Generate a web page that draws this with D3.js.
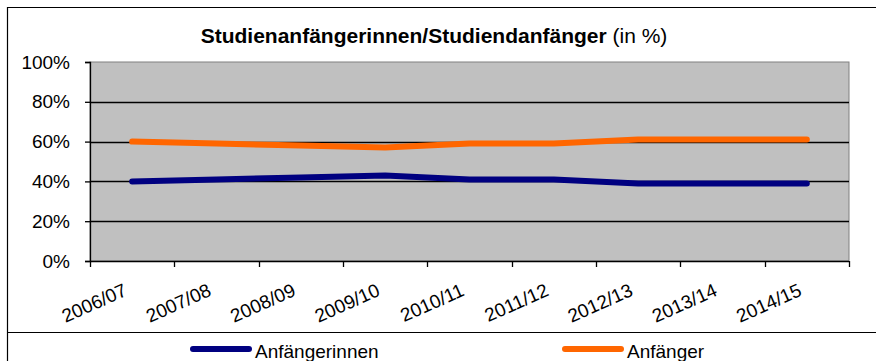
<!DOCTYPE html>
<html>
<head>
<meta charset="utf-8">
<script src="https://cdn.jsdelivr.net/npm/d3@7/dist/d3.min.js"></script>
<style>
  html, body { margin: 0; padding: 0; background: #fff; }
  svg { display: block; font-family: "Liberation Sans", Arial, sans-serif; }
</style>
</head>
<body>
<svg id="chart" width="876" height="361"></svg>
<script>
// Semesters (winter term / summer term)
const years = ["2006/07", "2007/08", "2008/09", "2009/10", "2010/11", "2011/12", "2012/13", "2013/14", "2014/15"];
// Share of female first-year students (%)
const anfaengerinnen = [40, 41, 42, 43, 41, 41, 39, 39, 39];
// Share of male first-year students (%)
const anfaenger = [60, 59, 58, 57, 59, 59, 61, 61, 61];
const yTicks = [0, 20, 40, 60, 80, 100];

const series = [
  { name: "Anfängerinnen", values: anfaengerinnen, color: "#000080" },
  { name: "Anfänger", values: anfaenger, color: "#ff6600" }
];

const svg = d3.select("#chart");
const plot = { left: 90, top: 62, right: 849, bottom: 261 };

// Outer chart frame and legend separator
svg.append("path")
  .attr("d", "M7.5,400 V7.5 H900")
  .attr("fill", "none").attr("stroke", "#000").attr("stroke-width", 1.2);
svg.append("line")
  .attr("x1", 7.5).attr("x2", 900).attr("y1", 332.5).attr("y2", 332.5)
  .attr("stroke", "#000").attr("stroke-width", 1.2);

// Title
const title = svg.append("text")
  .attr("x", 434).attr("y", 43)
  .attr("text-anchor", "middle")
  .attr("font-size", 21);
title.append("tspan").attr("font-weight", "bold").text("Studienanfängerinnen/Studiendanfänger");
title.append("tspan").text(" (in %)");

const x = d3.scaleBand().domain(years).range([plot.left, plot.right]);
const y = d3.scaleLinear().domain([0, 100]).range([plot.bottom, plot.top]);

// Plot background
svg.append("rect")
  .attr("x", plot.left).attr("y", plot.top)
  .attr("width", plot.right - plot.left).attr("height", plot.bottom - plot.top)
  .attr("fill", "#c0c0c0")
  .attr("stroke", "#808080").attr("stroke-width", 1);

// Horizontal gridlines
svg.append("g")
  .selectAll("line")
  .data(yTicks.filter(t => t > 0 && t < 100))
  .join("line")
  .attr("x1", plot.left).attr("x2", plot.right)
  .attr("y1", d => Math.round(y(d)) + 0.5).attr("y2", d => Math.round(y(d)) + 0.5)
  .attr("stroke", "#000").attr("stroke-width", 1.3);

// Y axis
const yAxis = svg.append("g")
  .attr("transform", `translate(${plot.left},0)`)
  .call(d3.axisLeft(y).tickValues(yTicks).tickFormat(d => d + "%").tickSize(5).tickPadding(15));
yAxis.select(".domain").attr("stroke", "#000").attr("stroke-width", 1.3);
yAxis.selectAll(".tick line").attr("stroke", "#000").attr("stroke-width", 1.3);
yAxis.selectAll("text").attr("font-size", 19).attr("fill", "#000")
  .attr("font-family", "'Liberation Sans', Arial, sans-serif");

// X axis with ticks on category boundaries
const boundaries = years.map(d => x(d)).concat([plot.right]);
const xg = svg.append("g");
xg.append("line")
  .attr("x1", plot.left).attr("x2", plot.right)
  .attr("y1", plot.bottom + 0.5).attr("y2", plot.bottom + 0.5)
  .attr("stroke", "#000").attr("stroke-width", 1.5);
xg.selectAll("line.tick")
  .data(boundaries)
  .join("line").attr("class", "tick")
  .attr("x1", d => Math.round(d) + 0.5).attr("x2", d => Math.round(d) + 0.5)
  .attr("y1", plot.bottom).attr("y2", plot.bottom + 6)
  .attr("stroke", "#000").attr("stroke-width", 1.3);
xg.selectAll("text")
  .data(years)
  .join("text")
  .attr("transform", d => `translate(${x(d) + x.bandwidth() / 2 - 4},${plot.bottom + 34}) rotate(-24)`)
  .attr("text-anchor", "end")
  .attr("font-size", 19)
  .text(d => d);

// Series lines
const line = d3.line()
  .x((d, i) => x(years[i]) + x.bandwidth() / 2)
  .y(d => y(d));
svg.append("g")
  .selectAll("path")
  .data(series)
  .join("path")
  .attr("d", s => line(s.values))
  .attr("fill", "none")
  .attr("stroke", s => s.color)
  .attr("stroke-width", 6)
  .attr("stroke-linecap", "round")
  .attr("stroke-linejoin", "round");

// Legend
const legendX = [193, 565];
const lg = svg.append("g")
  .selectAll("g")
  .data(series)
  .join("g")
  .attr("transform", (s, i) => `translate(${legendX[i]},349)`);
lg.append("line")
  .attr("x1", 0).attr("x2", 56).attr("y1", 0).attr("y2", 0)
  .attr("stroke", s => s.color).attr("stroke-width", 6).attr("stroke-linecap", "round");
lg.append("text")
  .attr("x", 62).attr("y", 9)
  .attr("font-size", 19)
  .text(s => s.name);
</script>
</body>
</html>
